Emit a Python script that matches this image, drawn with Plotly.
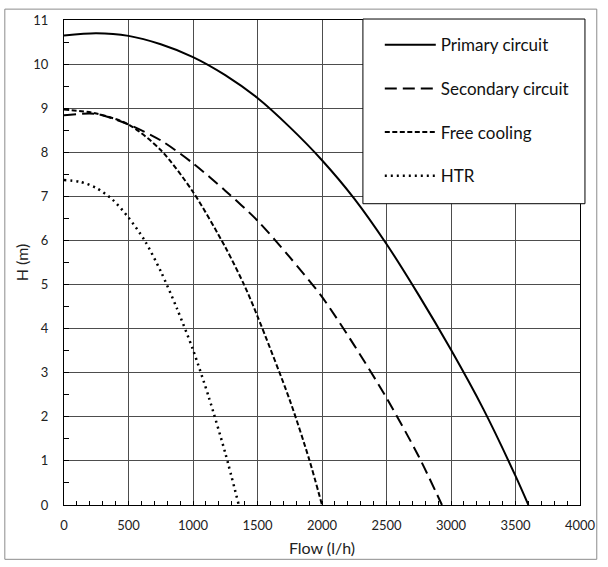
import plotly.graph_objects as go

# ---- data ----
flow_primary = [0, 250, 500, 750, 1000, 1250, 1500, 1750, 2000, 2250, 2500, 2750, 3000, 3250, 3500, 3600]
head_primary = [10.65, 10.70, 10.64, 10.45, 10.16, 9.75, 9.23, 8.57, 7.82, 6.95, 5.92, 4.76, 3.52, 2.18, 0.66, 0.0]

flow_secondary = [0, 250, 500, 750, 1000, 1250, 1500, 1750, 2000, 2250, 2500, 2750, 2930]
head_secondary = [8.84, 8.87, 8.63, 8.27, 7.75, 7.13, 6.45, 5.62, 4.72, 3.62, 2.43, 1.10, 0.0]

flow_free = [0, 250, 500, 750, 1000, 1250, 1400, 1500, 1750, 1900, 2000]
head_free = [8.97, 8.88, 8.63, 8.05, 7.10, 5.85, 4.97, 4.28, 2.38, 1.04, 0.0]

flow_htr = [0, 125, 250, 375, 500, 625, 750, 875, 1000, 1125, 1250, 1355]
head_htr = [7.37, 7.33, 7.19, 6.93, 6.52, 6.00, 5.30, 4.46, 3.52, 2.42, 1.18, 0.0]

series_names = ["Primary circuit", "Secondary circuit", "Free cooling", "HTR"]
x_ticks = [0, 500, 1000, 1500, 2000, 2500, 3000, 3500, 4000]
y_ticks = list(range(0, 12))

FONT = "Lato, Open Sans, sans-serif"

fig = go.Figure()
styles = [("solid", 2), ("12px,6px", 2), ("5px,2.5px", 2), ("2px,4px", 2.5)]
data = [(flow_primary, head_primary), (flow_secondary, head_secondary),
        (flow_free, head_free), (flow_htr, head_htr)]
for (xs, ys), name, (dash, w) in zip(data, series_names, styles):
    fig.add_trace(go.Scatter(
        x=xs, y=ys, mode="lines", name=name, legendgroup=name,
        line=dict(color="black", width=w, dash=dash, shape="spline", smoothing=0.8),
    ))

fig.update_layout(
    width=608, height=567,
    margin=dict(l=64, r=21, t=16, b=60),
    paper_bgcolor="white", plot_bgcolor="white",
    font=dict(family=FONT, color="#222222", size=13),
    showlegend=True,
    legend=dict(
        x=0.612, y=0.985, xanchor="left", yanchor="top",
        bgcolor="rgba(0,0,0,0)", borderwidth=0,
        font=dict(family=FONT, size=17, color="#111111"),
        tracegroupgap=18.5, itemwidth=51, traceorder="grouped",
    ),
    shapes=[
        dict(type="rect", xref="paper", yref="paper",
             x0=-0.1147, x1=1.0325, y0=-0.112, y1=1.0224,
             line=dict(color="#8c8c8c", width=1), fillcolor="rgba(0,0,0,0)", layer="above"),
        dict(type="rect", xref="paper", yref="paper",
             x0=0.5793, x1=1.0096, y0=0.6212, y1=1.002,
             line=dict(color="black", width=1), fillcolor="white", layer="above"),
    ],
)

fig.update_xaxes(
    range=[0, 4000], tickvals=x_ticks, ticktext=[str(v) for v in x_ticks],
    showgrid=True, gridcolor="#4d4d4d", gridwidth=1,
    showline=True, linecolor="black", linewidth=1, mirror=True,
    ticks="inside", ticklen=4, tickcolor="black",
    minor=dict(dtick=100, ticks="inside", ticklen=4, tickcolor="black", showgrid=False),
    ticklabelstandoff=8, zeroline=False,
    title=dict(text="Flow (l/h)", font=dict(size=16, family=FONT, color="#222222"), standoff=11),
)
fig.update_yaxes(
    range=[0, 11], tickvals=y_ticks, ticktext=[str(v) for v in y_ticks],
    showgrid=True, gridcolor="#4d4d4d", gridwidth=1,
    showline=True, linecolor="black", linewidth=1, mirror=True,
    ticks="inside", ticklen=5, tickcolor="black",
    minor=dict(dtick=0.5, ticks="inside", ticklen=5, tickcolor="black", showgrid=False),
    ticklabelstandoff=12, zeroline=False,
    title=dict(text="H (m)", font=dict(size=16, family=FONT, color="#222222"), standoff=0),
)

fig.write_html("out.html", config={"displayModeBar": False},
               post_script="document.body.style.margin='0';")
